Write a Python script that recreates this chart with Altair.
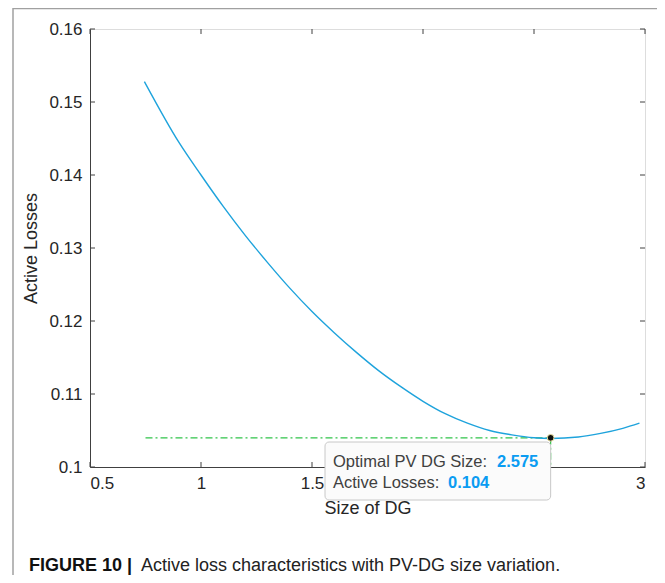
import altair as alt
import pandas as pd

# ---- data ----
sizes = [0.745, 0.9, 1.0, 1.1, 1.2, 1.3, 1.4, 1.5, 1.6, 1.7, 1.8, 1.9, 2.0,
         2.1, 2.2, 2.3, 2.4, 2.5, 2.575, 2.7, 2.8, 2.9, 2.975]
losses = [0.1528, 0.1445, 0.1400, 0.1357, 0.1317, 0.1280, 0.1245, 0.1213,
          0.1184, 0.1157, 0.1132, 0.1110, 0.1090, 0.1073, 0.1060, 0.1050,
          0.1044, 0.1040, 0.1039, 0.1041, 0.1046, 0.1053, 0.1060]
opt_size = 2.575
opt_loss = 0.104
start_size = 0.75
x_ticks = [0.5, 1, 1.5, 2, 2.5, 3]
y_ticks = [0.1, 0.11, 0.12, 0.13, 0.14, 0.15, 0.16]

FONT = "Liberation Sans"
W, H = 555, 438

curve_df = pd.DataFrame({"size": sizes, "loss": losses})
opt_df = pd.DataFrame({"size": [opt_size], "loss": [opt_loss],
                       "x0": [start_size], "ybot": [0.1]})
xt_df = pd.DataFrame({"v": x_ticks})
yt_df = pd.DataFrame({"v": y_ticks})

xs = alt.Scale(domain=[0.5, 3], nice=False, zero=False)
ys = alt.Scale(domain=[0.1, 0.16], nice=False, zero=False)

# labels 2 and 2.5 sit underneath the datatip box in the reference
x_axis = alt.Axis(values=x_ticks, format="~g", ticks=False, grid=False,
                  labelExpr="(datum.value >= 2 && datum.value < 3) ? '' : datum.label",
                  labelFontSize=17, labelColor="#262626", labelPadding=8,
                  domainColor="#404040", title="Size of DG", titleFontSize=18,
                  titleFontWeight="normal", titleColor="#262626", titlePadding=8,
                  labelFont=FONT, titleFont=FONT)
y_axis = alt.Axis(values=y_ticks, format="~g", ticks=False, grid=False,
                  labelFontSize=17, labelColor="#262626", labelPadding=8,
                  domainColor="#404040", title="Active Losses", titleFontSize=18,
                  titleFontWeight="normal", titleColor="#262626", titlePadding=8,
                  labelFont=FONT, titleFont=FONT)

curve = alt.Chart(curve_df).mark_line(color="#1ea3dc", strokeWidth=1.4,
                                      interpolate="monotone").encode(
    x=alt.X("size:Q", scale=xs, axis=x_axis),
    y=alt.Y("loss:Q", scale=ys, axis=y_axis),
)

# inward ticks on all four sides
tick_col = "#404040"
xt_bottom = alt.Chart(xt_df).mark_rule(color=tick_col).encode(
    x=alt.X("v:Q", scale=xs), y=alt.value(H), y2=alt.value(H - 5))
xt_top = alt.Chart(xt_df).mark_rule(color=tick_col).encode(
    x=alt.X("v:Q", scale=xs), y=alt.value(0), y2=alt.value(5))
yt_left = alt.Chart(yt_df).mark_rule(color=tick_col).encode(
    y=alt.Y("v:Q", scale=ys), x=alt.value(0), x2=alt.value(5))
yt_right = alt.Chart(yt_df).mark_rule(color=tick_col).encode(
    y=alt.Y("v:Q", scale=ys), x=alt.value(W), x2=alt.value(W - 5))

green = "#30c44a"
hline = alt.Chart(opt_df).mark_rule(color=green, strokeWidth=1.2,
                                    strokeDash=[7, 3, 2, 3]).encode(
    x=alt.X("x0:Q", scale=xs), x2="size:Q", y=alt.Y("loss:Q", scale=ys))
vline = alt.Chart(opt_df).mark_rule(color=green, strokeWidth=1.2,
                                    strokeDash=[7, 3, 2, 3]).encode(
    x=alt.X("size:Q", scale=xs), y=alt.Y("loss:Q", scale=ys), y2="ybot:Q")

# datatip box (anchored at the optimum's x position)
box = alt.Chart(opt_df).mark_rect(fill="#fbfbfb", stroke="#c8c8c8",
                                  strokeWidth=1, cornerRadius=4).encode(
    x=alt.X("size:Q", scale=xs), x2=alt.value(235),
    y=alt.value(413), y2=alt.value(471))

point = alt.Chart(opt_df).mark_point(filled=True, color="#111111", size=45,
                                     stroke="#e8e0a0", strokeWidth=1,
                                     opacity=1).encode(
    x=alt.X("size:Q", scale=xs), y=alt.Y("loss:Q", scale=ys))

tip_label_style = dict(font=FONT, fontSize=16.5, color="#404040", align="left",
                       baseline="alphabetic")
tip_val_style = dict(font=FONT, fontSize=16.5, color="#0a9cf2", fontWeight="bold",
                     align="left", baseline="alphabetic")
tip1 = alt.Chart(opt_df).mark_text(text="Optimal PV DG Size:", **tip_label_style).encode(
    x=alt.value(243), y=alt.value(438))
tip1v = alt.Chart(opt_df).mark_text(**tip_val_style).encode(
    text=alt.Text("size:Q", format=".3f"), x=alt.value(407), y=alt.value(438))
tip2 = alt.Chart(opt_df).mark_text(text="Active Losses:", **tip_label_style).encode(
    x=alt.value(243), y=alt.value(459))
tip2v = alt.Chart(opt_df).mark_text(**tip_val_style).encode(
    text=alt.Text("loss:Q", format=".3f"), x=alt.value(358), y=alt.value(459))

# page frame and caption
frame_col = "#a0a0a0"
frame_left = alt.Chart(opt_df).mark_rule(color=frame_col, strokeWidth=1.5).encode(
    x=alt.value(-77), y=alt.value(-21), y2=alt.value(560))
frame_top = alt.Chart(opt_df).mark_rule(color=frame_col, strokeWidth=1.5).encode(
    x=alt.value(-77), x2=alt.value(580), y=alt.value(-20.5))
cap1 = alt.Chart(opt_df).mark_text(text="FIGURE 10 |", font=FONT, fontSize=18,
                                   fontWeight="bold", color="#111111",
                                   align="left", baseline="alphabetic").encode(
    x=alt.value(-61), y=alt.value(542))
cap2 = alt.Chart(opt_df).mark_text(
    text="Active loss characteristics with PV-DG size variation.",
    font=FONT, fontSize=18, color="#222222", align="left",
    baseline="alphabetic").encode(x=alt.value(51), y=alt.value(542))

chart = alt.layer(
    hline, vline, curve, xt_bottom, xt_top, yt_left, yt_right,
    box, point, tip1, tip1v, tip2, tip2v,
    frame_left, frame_top, cap1, cap2,
).properties(
    width=W, height=H,
    autosize=alt.AutoSizeParams(type="none"),
    padding={"left": 82, "top": 21, "right": 12, "bottom": 108},
).configure_view(stroke="#404040", strokeWidth=1).configure(
    background="white", font=FONT)

chart.save("out.html", embed_options={"renderer": "svg", "actions": False})
